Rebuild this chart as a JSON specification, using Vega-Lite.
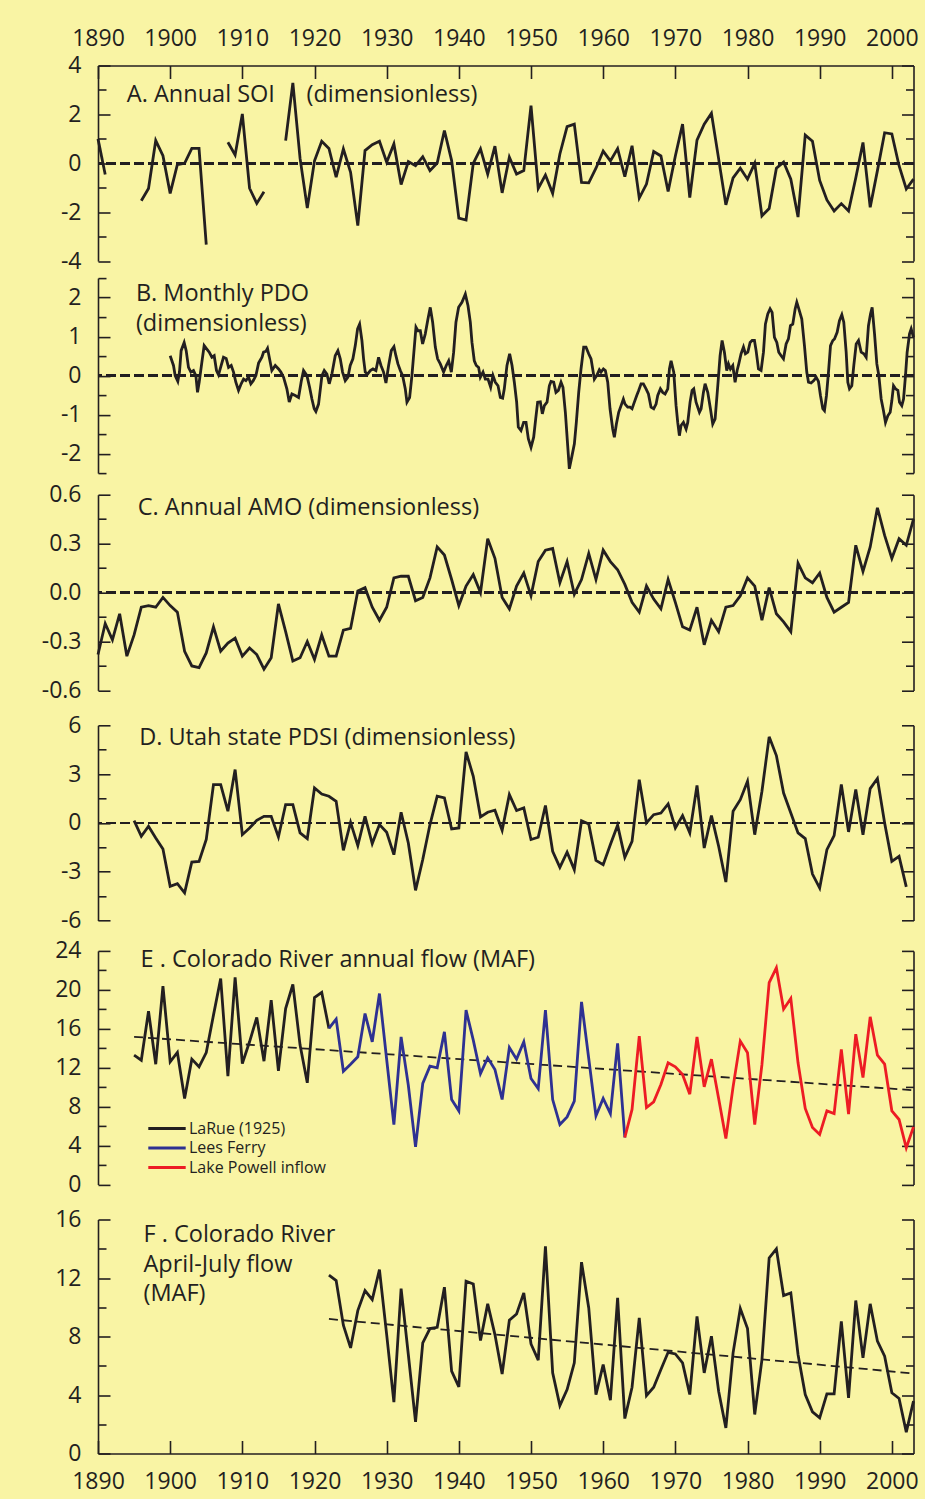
{
  "$schema": "https://vega.github.io/schema/vega-lite/v6.json",
  "padding": {"left": 41, "top": 26.5, "right": 5, "bottom": 5},
  "spacing": 3.6,
  "config": {
    "background": "#f9f4a4",
    "view": {"stroke": null},
    "font": "Open Sans",
    "axis": {"grid": false, "domainColor": "#231f20", "domainWidth": 1.6, "tickColor": "#231f20", "tickWidth": 1.6, "labelColor": "#231f20", "labelFont": "Open Sans", "labelFontSize": 23, "labelOverlap": false, "labelFlush": false},
    "text": {"font": "Open Sans", "fontSize": 23.5, "color": "#231f20"}
  },
  "vconcat": [
    {
      "width": 815.5, "height": 195.6,
      "data": {"values": [
        {"t":1890,"v":1.0,"s":1},{"t":1891,"v":-0.46,"s":1},
        {"t":1896,"v":-1.53,"s":2},{"t":1897,"v":-1.03,"s":2},{"t":1898,"v":0.93,"s":2},{"t":1899,"v":0.31,"s":2},{"t":1900,"v":-1.23,"s":2},{"t":1901,"v":-0.05,"s":2},{"t":1902,"v":0.0,"s":2},{"t":1903,"v":0.61,"s":2},{"t":1904,"v":0.61,"s":2},{"t":1905,"v":-3.33,"s":2},
        {"t":1908,"v":0.86,"s":3},{"t":1909,"v":0.34,"s":3},{"t":1910,"v":2.02,"s":3},{"t":1911,"v":-1.02,"s":3},{"t":1912,"v":-1.64,"s":3},{"t":1913,"v":-1.16,"s":3},
        {"t":1916,"v":0.93,"s":4},{"t":1917,"v":3.29,"s":4},{"t":1918,"v":0.2,"s":4},{"t":1919,"v":-1.83,"s":4},{"t":1920,"v":0.1,"s":4},{"t":1921,"v":0.9,"s":4},{"t":1922,"v":0.61,"s":4},{"t":1923,"v":-0.57,"s":4},{"t":1924,"v":0.59,"s":4},{"t":1925,"v":-0.37,"s":4},{"t":1926,"v":-2.55,"s":4},{"t":1927,"v":0.52,"s":4},{"t":1928,"v":0.76,"s":4},{"t":1929,"v":0.9,"s":4},{"t":1930,"v":0.04,"s":4},{"t":1931,"v":0.79,"s":4},{"t":1932,"v":-0.87,"s":4},{"t":1933,"v":0.07,"s":4},{"t":1934,"v":-0.1,"s":4},{"t":1935,"v":0.27,"s":4},{"t":1936,"v":-0.3,"s":4},{"t":1937,"v":0.01,"s":4},{"t":1938,"v":1.34,"s":4},{"t":1939,"v":0.11,"s":4},{"t":1940,"v":-2.24,"s":4},{"t":1941,"v":-2.32,"s":4},{"t":1942,"v":0.0,"s":4},{"t":1943,"v":0.59,"s":4},{"t":1944,"v":-0.44,"s":4},{"t":1945,"v":0.7,"s":4},{"t":1946,"v":-1.21,"s":4},{"t":1947,"v":0.25,"s":4},{"t":1948,"v":-0.44,"s":4},{"t":1949,"v":-0.3,"s":4},{"t":1950,"v":2.36,"s":4},{"t":1951,"v":-1.03,"s":4},{"t":1952,"v":-0.48,"s":4},{"t":1953,"v":-1.23,"s":4},{"t":1954,"v":0.38,"s":4},{"t":1955,"v":1.5,"s":4},{"t":1956,"v":1.6,"s":4},{"t":1957,"v":-0.78,"s":4},{"t":1958,"v":-0.8,"s":4},{"t":1959,"v":-0.2,"s":4},{"t":1960,"v":0.5,"s":4},{"t":1961,"v":0.1,"s":4},{"t":1962,"v":0.6,"s":4},{"t":1963,"v":-0.55,"s":4},{"t":1964,"v":0.72,"s":4},{"t":1965,"v":-1.42,"s":4},{"t":1966,"v":-0.85,"s":4},{"t":1967,"v":0.48,"s":4},{"t":1968,"v":0.3,"s":4},{"t":1969,"v":-1.15,"s":4},{"t":1970,"v":0.3,"s":4},{"t":1971,"v":1.6,"s":4},{"t":1972,"v":-1.4,"s":4},{"t":1973,"v":0.95,"s":4},{"t":1974,"v":1.6,"s":4},{"t":1975,"v":2.05,"s":4},{"t":1976,"v":0.18,"s":4},{"t":1977,"v":-1.7,"s":4},{"t":1978,"v":-0.6,"s":4},{"t":1979,"v":-0.2,"s":4},{"t":1980,"v":-0.65,"s":4},{"t":1981,"v":0.0,"s":4},{"t":1982,"v":-2.15,"s":4},{"t":1983,"v":-1.85,"s":4},{"t":1984,"v":-0.2,"s":4},{"t":1985,"v":0.05,"s":4},{"t":1986,"v":-0.65,"s":4},{"t":1987,"v":-2.2,"s":4},{"t":1988,"v":1.15,"s":4},{"t":1989,"v":0.9,"s":4},{"t":1990,"v":-0.7,"s":4},{"t":1991,"v":-1.5,"s":4},{"t":1992,"v":-1.95,"s":4},{"t":1993,"v":-1.65,"s":4},{"t":1994,"v":-1.95,"s":4},{"t":1995,"v":-0.6,"s":4},{"t":1996,"v":0.85,"s":4},{"t":1997,"v":-1.8,"s":4},{"t":1998,"v":-0.3,"s":4},{"t":1999,"v":1.25,"s":4},{"t":2000,"v":1.2,"s":4},{"t":2001,"v":-0.1,"s":4},{"t":2002,"v":-1.05,"s":4},{"t":2003,"v":-0.65,"s":4}
      ]},
      "layer": [
        {"mark": {"type": "line", "color": "#231f20", "strokeWidth": 2.8},
         "encoding": {
           "x": {"field": "t", "type": "quantitative", "scale": {"domain": [1890, 2003], "nice": false, "zero": false},
             "axis": {"orient": "top", "title": null, "domain": true, "ticks": true, "labels": true, "values": [1890,1895,1900,1905,1910,1915,1920,1925,1930,1935,1940,1945,1950,1955,1960,1965,1970,1975,1980,1985,1990,1995,2000], "tickSize": {"condition": {"test": "datum.value % 10 === 0", "value": -13}, "value": -8}, "labelFontSize": {"condition": {"test": "datum.value % 10 === 0", "value": 23}, "value": 0}, "labelPadding": 28.5, "labelExpr": "datum.value % 10 === 0 ? '' + datum.value : ''"}},
           "y": {"field": "v", "type": "quantitative", "scale": {"domain": [-4, 4], "nice": false, "zero": false},
             "axis": {"orient": "left", "title": null, "values": [-4,-3,-2,-1,0,1,2,3,4], "tickSize": {"condition": {"test": "datum.value % 2 === 0", "value": -12}, "value": -8}, "labelFontSize": {"condition": {"test": "datum.value % 2 === 0", "value": 23}, "value": 0}, "labelPadding": 29, "labelExpr": "datum.value % 2 === 0 ? (datum.value < 0 ? '-' : '') + abs(datum.value) : ''"}},
           "detail": {"field": "s", "type": "nominal"}
         }},
        {"mark": {"type": "rule", "strokeDash": [9, 5], "strokeWidth": 1.8, "color": "#231f20"},
         "encoding": {"y": {"datum": 0, "type": "quantitative", "scale": {"domain": [-4, 4], "nice": false, "zero": false},
           "axis": {"orient": "right", "title": null, "labels": false, "values": [-4,-3,-2,-1,0,1,2,3,4], "tickSize": {"condition": {"test": "datum.value % 2 === 0", "value": -12}, "value": -8}}}}},
        {"data": {"values": [{}]}, "mark": {"type": "text", "text": "A. Annual SOI", "align": "left", "baseline": "alphabetic"},
         "encoding": {"x": {"datum": 1894.0, "type": "quantitative"}, "y": {"datum": 2.5, "type": "quantitative", "axis": null}}},
        {"data": {"values": [{}]}, "mark": {"type": "text", "text": "(dimensionless)", "align": "left", "baseline": "alphabetic"},
         "encoding": {"x": {"datum": 1918.9, "type": "quantitative"}, "y": {"datum": 2.5, "type": "quantitative", "axis": null}}}
      ],
      "resolve": {"axis": {"y": "independent"}}
    },
    {
      "width": 815.5, "height": 195,
      "data": {"values": [
        {"t":1900.00,"v":0.51},{"t":1900.46,"v":0.26},{"t":1900.69,"v":0},{"t":1901.06,"v":-0.15},{"t":1901.29,"v":0.09},{"t":1901.52,"v":0.64},{"t":1901.94,"v":0.85},{"t":1902.22,"v":0.64},{"t":1902.54,"v":0.21},{"t":1902.87,"v":0.09},{"t":1903.23,"v":0.13},{"t":1903.56,"v":0},{"t":1903.79,"v":-0.43},{"t":1904.02,"v":-0.17},{"t":1904.39,"v":0.34},{"t":1904.71,"v":0.77},{"t":1905.08,"v":0.68},{"t":1905.41,"v":0.60},{"t":1905.78,"v":0.47},{"t":1906.10,"v":0.51},{"t":1906.42,"v":0.13},{"t":1906.70,"v":0.02},{"t":1907.07,"v":0.26},{"t":1907.39,"v":0.47},{"t":1907.76,"v":0.44},{"t":1908.09,"v":0.21},{"t":1908.46,"v":0.26},{"t":1908.78,"v":0.09},{"t":1909.10,"v":-0.17},{"t":1909.47,"v":-0.38},{"t":1909.84,"v":-0.21},{"t":1910.17,"v":-0.09},{"t":1910.49,"v":-0.13},{"t":1910.86,"v":-0.04},{"t":1911.18,"v":-0.21},{"t":1911.51,"v":-0.13},{"t":1911.88,"v":0},{"t":1912.25,"v":0.32},{"t":1912.71,"v":0.47},{"t":1912.94,"v":0.60},{"t":1913.26,"v":0.62},{"t":1913.49,"v":0.70},{"t":1913.77,"v":0.43},{"t":1914.09,"v":0.13},{"t":1914.56,"v":0.26},{"t":1915.02,"v":0.17},{"t":1915.34,"v":0.09},{"t":1915.71,"v":-0.04},{"t":1916.17,"v":-0.34},{"t":1916.50,"v":-0.68},{"t":1916.87,"v":-0.47},{"t":1917.33,"v":-0.51},{"t":1917.79,"v":-0.56},{"t":1918.16,"v":-0.15},{"t":1918.48,"v":0.13},{"t":1918.95,"v":0},{"t":1919.32,"v":-0.30},{"t":1919.64,"v":-0.60},{"t":1919.96,"v":-0.85},{"t":1920.19,"v":-0.92},{"t":1920.56,"v":-0.73},{"t":1921.03,"v":0},{"t":1921.35,"v":0.13},{"t":1921.72,"v":0.04},{"t":1922.04,"v":-0.21},{"t":1922.41,"v":0.04},{"t":1922.87,"v":0.51},{"t":1923.24,"v":0.64},{"t":1923.57,"v":0.43},{"t":1923.89,"v":0.09},{"t":1924.26,"v":-0.13},{"t":1924.63,"v":-0.04},{"t":1924.95,"v":0.26},{"t":1925.32,"v":0.43},{"t":1925.65,"v":0.77},{"t":1925.97,"v":1.20},{"t":1926.25,"v":1.32},{"t":1926.57,"v":0.90},{"t":1926.80,"v":0.43},{"t":1927.03,"v":0.09},{"t":1927.36,"v":0.04},{"t":1927.73,"v":0.13},{"t":1928.10,"v":0.17},{"t":1928.51,"v":0.13},{"t":1928.88,"v":0.47},{"t":1929.21,"v":0.26},{"t":1929.57,"v":0.09},{"t":1929.90,"v":-0.19},{"t":1930.27,"v":0.26},{"t":1930.64,"v":0.64},{"t":1931.01,"v":0.74},{"t":1931.28,"v":0.51},{"t":1931.56,"v":0.30},{"t":1931.89,"v":0.13},{"t":1932.21,"v":0},{"t":1932.58,"v":-0.34},{"t":1932.81,"v":-0.68},{"t":1933.18,"v":-0.56},{"t":1933.50,"v":0},{"t":1933.73,"v":0.51},{"t":1934.06,"v":1.24},{"t":1934.33,"v":1.15},{"t":1934.66,"v":1.15},{"t":1934.98,"v":0.81},{"t":1935.35,"v":1.07},{"t":1935.72,"v":1.45},{"t":1936.04,"v":1.75},{"t":1936.37,"v":1.37},{"t":1936.74,"v":0.73},{"t":1937.06,"v":0.43},{"t":1937.43,"v":0.30},{"t":1937.89,"v":0.09},{"t":1938.26,"v":0.26},{"t":1938.59,"v":0.38},{"t":1938.96,"v":0.09},{"t":1939.28,"v":0.60},{"t":1939.60,"v":1.37},{"t":1939.97,"v":1.75},{"t":1940.43,"v":1.88},{"t":1940.90,"v":2.09},{"t":1941.27,"v":1.79},{"t":1941.59,"v":1.37},{"t":1941.82,"v":0.85},{"t":1942.14,"v":0.38},{"t":1942.42,"v":0.26},{"t":1942.74,"v":0.21},{"t":1942.98,"v":-0.04},{"t":1943.35,"v":0.09},{"t":1943.67,"v":-0.09},{"t":1944.04,"v":-0.09},{"t":1944.41,"v":-0.30},{"t":1944.73,"v":0},{"t":1945.06,"v":-0.17},{"t":1945.43,"v":-0.26},{"t":1945.75,"v":-0.56},{"t":1946.07,"v":-0.58},
        {"t":1946.30,"v":-0.34},{"t":1946.67,"v":0.26},{"t":1947.04,"v":0.56},{"t":1947.37,"v":0.26},{"t":1947.69,"v":-0.17},{"t":1948.01,"v":-0.68},{"t":1948.24,"v":-1.32},{"t":1948.61,"v":-1.41},{"t":1948.98,"v":-1.20},{"t":1949.31,"v":-1.20},{"t":1949.63,"v":-1.62},{"t":1950.00,"v":-1.84},{"t":1950.37,"v":-1.58},{"t":1950.65,"v":-1.11},{"t":1950.92,"v":-0.68},{"t":1951.29,"v":-0.67},{"t":1951.57,"v":-0.98},{"t":1951.85,"v":-0.77},{"t":1952.22,"v":-0.68},{"t":1952.54,"v":-0.26},{"t":1952.77,"v":-0.15},{"t":1953.14,"v":-0.17},{"t":1953.46,"v":-0.43},{"t":1953.79,"v":-0.38},{"t":1954.16,"v":-0.17},{"t":1954.43,"v":-0.30},{"t":1954.76,"v":-0.94},{"t":1955.08,"v":-1.79},{"t":1955.31,"v":-2.39},{"t":1955.64,"v":-2.09},{"t":1956.01,"v":-1.75},{"t":1956.28,"v":-1.20},{"t":1956.61,"v":-0.43},{"t":1956.93,"v":0.17},{"t":1957.30,"v":0.73},{"t":1957.62,"v":0.73},{"t":1957.99,"v":0.56},{"t":1958.32,"v":0.43},{"t":1958.78,"v":-0.09},{"t":1959.10,"v":0},{"t":1959.47,"v":0.15},{"t":1959.70,"v":0.09},{"t":1960.03,"v":0.17},{"t":1960.30,"v":0.13},{"t":1960.63,"v":-0.17},{"t":1960.95,"v":-0.85},{"t":1961.32,"v":-1.37},{"t":1961.55,"v":-1.58},{"t":1961.83,"v":-1.24},{"t":1962.15,"v":-0.94},{"t":1962.48,"v":-0.77},{"t":1962.80,"v":-0.60},{"t":1963.03,"v":-0.73},{"t":1963.40,"v":-0.81},{"t":1963.72,"v":-0.81},{"t":1964.00,"v":-0.85},{"t":1964.32,"v":-0.68},{"t":1964.65,"v":-0.51},{"t":1964.92,"v":-0.38},{"t":1965.25,"v":-0.21},{"t":1965.57,"v":-0.21},{"t":1965.94,"v":-0.34},{"t":1966.27,"v":-0.47},{"t":1966.63,"v":-0.81},{"t":1967.00,"v":-0.85},{"t":1967.33,"v":-0.73},{"t":1967.56,"v":-0.51},{"t":1967.93,"v":-0.34},{"t":1968.25,"v":-0.43},{"t":1968.58,"v":-0.47},{"t":1968.95,"v":-0.34},{"t":1969.18,"v":0.17},{"t":1969.41,"v":0.38},{"t":1969.78,"v":0.09},{"t":1970.10,"v":-0.77},{"t":1970.33,"v":-1.20},{"t":1970.56,"v":-1.54},{"t":1970.79,"v":-1.28},{"t":1971.12,"v":-1.20},{"t":1971.49,"v":-1.37},{"t":1971.72,"v":-1.20},{"t":1972.04,"v":-0.68},{"t":1972.32,"v":-0.38},{"t":1972.55,"v":-0.34},{"t":1972.87,"v":-0.68},{"t":1973.34,"v":-0.94},{"t":1973.57,"v":-0.85},{"t":1973.89,"v":-0.43},{"t":1974.12,"v":-0.21},{"t":1974.49,"v":-0.43},{"t":1974.86,"v":-0.85},{"t":1975.18,"v":-1.24},{"t":1975.51,"v":-1.11},{"t":1975.88,"v":-0.26},{"t":1976.20,"v":0.51},{"t":1976.48,"v":0.90},{"t":1976.80,"v":0.60},{"t":1977.12,"v":0.13},{"t":1977.36,"v":0.30},{"t":1977.63,"v":0.17},{"t":1977.96,"v":0.26},{"t":1978.28,"v":-0.17},{"t":1978.56,"v":0.13},{"t":1978.79,"v":0.30},{"t":1979.11,"v":0.56},{"t":1979.44,"v":0.73},{"t":1979.71,"v":0.56},{"t":1980.04,"v":0.60},{"t":1980.36,"v":0.85},{"t":1980.64,"v":0.90},{"t":1980.96,"v":0.90},{"t":1981.19,"v":0.64},{"t":1981.52,"v":0.17},{"t":1981.88,"v":0.13},{"t":1982.21,"v":0.60},{"t":1982.48,"v":1.32},{"t":1982.81,"v":1.58},{"t":1983.13,"v":1.71},{"t":1983.41,"v":1.62},{"t":1983.73,"v":0.98},{"t":1984.06,"v":0.85},{"t":1984.33,"v":0.60},{"t":1984.66,"v":0.51},{"t":1984.98,"v":0.43},{"t":1985.35,"v":0.81},{"t":1985.67,"v":0.94},{"t":1985.95,"v":1.28},{"t":1986.27,"v":1.32},{"t":1986.60,"v":1.71},{"t":1986.83,"v":1.88},{"t":1987.11,"v":1.71},{"t":1987.52,"v":1.45},{"t":1987.89,"v":0.77},{"t":1988.21,"v":0.09},{"t":1988.45,"v":-0.17},{"t":1988.81,"v":-0.19},{"t":1989.18,"v":-0.13},{"t":1989.51,"v":-0.04},{"t":1989.83,"v":-0.15},{"t":1990.11,"v":-0.51},{"t":1990.43,"v":-0.85},{"t":1990.66,"v":-0.90},{"t":1990.94,"v":-0.51},{"t":1991.22,"v":0.09},{"t":1991.50,"v":0.77},{"t":1991.82,"v":0.90},{"t":1992.05,"v":0.94},{"t":1992.42,"v":1.11},{"t":1992.74,"v":1.41},{"t":1993.07,"v":1.56},{"t":1993.34,"v":1.37},{"t":1993.67,"v":0.60},{"t":1993.90,"v":-0.17},{"t":1994.13,"v":-0.34},{"t":1994.45,"v":-0.26},{"t":1994.73,"v":0.26},{"t":1995.06,"v":0.81},{"t":1995.38,"v":0.90},{"t":1995.75,"v":0.60},{"t":1996.12,"v":0.56},{"t":1996.44,"v":0.47},{"t":1996.76,"v":1.28},{"t":1997.04,"v":1.58},{"t":1997.27,"v":1.75},{"t":1997.60,"v":1.07},{"t":1997.92,"v":0.30},{"t":1998.20,"v":0},{"t":1998.52,"v":-0.60},{"t":1998.84,"v":-0.90},{"t":1999.12,"v":-1.20},{"t":1999.44,"v":-1.03},{"t":1999.77,"v":-0.94},{"t":2000.00,"v":-0.64},{"t":2000.23,"v":-0.26},{"t":2000.51,"v":-0.34},{"t":2000.83,"v":-0.38},{"t":2001.06,"v":-0.68},{"t":2001.38,"v":-0.77},{"t":2001.62,"v":-0.60},{"t":2001.89,"v":0},{"t":2002.12,"v":0.60},{"t":2002.45,"v":1.07},{"t":2002.68,"v":1.20},{"t":2003.0,"v":0.98}
      ]},
      "layer": [
        {"mark": {"type": "rule", "strokeDash": [9, 5], "strokeWidth": 1.8, "color": "#231f20"},
         "encoding": {"y": {"datum": 0, "type": "quantitative", "scale": {"domain": [-2.5, 2.5], "nice": false, "zero": false},
           "axis": {"orient": "left", "title": null, "values": [-2.5,-2,-1.5,-1,-0.5,0,0.5,1,1.5,2,2.5], "tickSize": {"condition": {"test": "datum.value % 1 === 0", "value": -12}, "value": -8}, "labelFontSize": {"condition": {"test": "datum.value % 1 === 0", "value": 23}, "value": 0}, "labelPadding": 29, "labelExpr": "datum.value % 1 === 0 ? (datum.value < 0 ? '-' : '') + abs(datum.value) : ''"}}}},
        {"mark": {"type": "line", "color": "#231f20", "strokeWidth": 2.8},
         "encoding": {
           "x": {"field": "t", "type": "quantitative", "scale": {"domain": [1890, 2003], "nice": false, "zero": false}, "axis": null},
           "y": {"field": "v", "type": "quantitative", "scale": {"domain": [-2.5, 2.5], "nice": false, "zero": false},
             "axis": {"orient": "right", "title": null, "labels": true, "labelExpr": "''", "labelPadding": 0, "labelFontSize": {"condition": {"test": "datum.value === -2.5", "value": 13.8}, "value": 0}, "values": [-2.5,-2,-1.5,-1,-0.5,0,0.5,1,1.5,2,2.5], "tickSize": {"condition": {"test": "datum.value % 1 === 0", "value": -12}, "value": -8}}}
         }},
        {"data": {"values": [{}]}, "mark": {"type": "text", "text": ["B. Monthly PDO", "(dimensionless)"], "lineHeight": 30, "align": "left", "baseline": "alphabetic"},
         "encoding": {"x": {"datum": 1895.25, "type": "quantitative", "axis": null}, "y": {"datum": 1.92, "type": "quantitative", "axis": null}}}
      ],
      "resolve": {"axis": {"y": "independent"}}
    },
    {
      "width": 815.5, "height": 195.7,
      "data": {"values": [
        {"t":1890,"v":-0.38},{"t":1891,"v":-0.19},{"t":1892,"v":-0.29},{"t":1893,"v":-0.13},{"t":1894,"v":-0.39},{"t":1895,"v":-0.26},{"t":1896,"v":-0.09},{"t":1897,"v":-0.08},{"t":1898,"v":-0.09},{"t":1899,"v":-0.03},{"t":1900,"v":-0.08},{"t":1901,"v":-0.12},{"t":1902,"v":-0.36},{"t":1903,"v":-0.45},{"t":1904,"v":-0.46},{"t":1905,"v":-0.37},{"t":1906,"v":-0.21},{"t":1907,"v":-0.36},{"t":1908,"v":-0.31},{"t":1909,"v":-0.28},{"t":1910,"v":-0.39},{"t":1911,"v":-0.34},{"t":1912,"v":-0.38},{"t":1913,"v":-0.47},{"t":1914,"v":-0.40},{"t":1915,"v":-0.07},{"t":1916,"v":-0.24},{"t":1917,"v":-0.42},{"t":1918,"v":-0.40},{"t":1919,"v":-0.30},{"t":1920,"v":-0.41},{"t":1921,"v":-0.26},{"t":1922,"v":-0.39},{"t":1923,"v":-0.39},{"t":1924,"v":-0.23},{"t":1925,"v":-0.22},{"t":1926,"v":0.01},{"t":1927,"v":0.03},{"t":1928,"v":-0.09},{"t":1929,"v":-0.17},{"t":1930,"v":-0.09},{"t":1931,"v":0.09},{"t":1932,"v":0.10},{"t":1933,"v":0.10},{"t":1934,"v":-0.05},{"t":1935,"v":-0.03},{"t":1936,"v":0.09},{"t":1937,"v":0.28},{"t":1938,"v":0.23},{"t":1939,"v":0.08},{"t":1940,"v":-0.08},{"t":1941,"v":0.04},{"t":1942,"v":0.11},{"t":1943,"v":0.0},{"t":1944,"v":0.33},{"t":1945,"v":0.21},{"t":1946,"v":-0.03},{"t":1947,"v":-0.10},{"t":1948,"v":0.04},{"t":1949,"v":0.12},{"t":1950,"v":-0.02},{"t":1951,"v":0.19},{"t":1952,"v":0.26},{"t":1953,"v":0.27},{"t":1954,"v":0.06},{"t":1955,"v":0.19},{"t":1956,"v":-0.01},{"t":1957,"v":0.08},{"t":1958,"v":0.24},{"t":1959,"v":0.08},{"t":1960,"v":0.26},{"t":1961,"v":0.19},{"t":1962,"v":0.14},{"t":1963,"v":0.05},{"t":1964,"v":-0.06},{"t":1965,"v":-0.12},{"t":1966,"v":0.04},{"t":1967,"v":-0.04},{"t":1968,"v":-0.10},{"t":1969,"v":0.08},{"t":1970,"v":-0.06},{"t":1971,"v":-0.21},{"t":1972,"v":-0.23},{"t":1973,"v":-0.09},{"t":1974,"v":-0.32},{"t":1975,"v":-0.17},{"t":1976,"v":-0.24},{"t":1977,"v":-0.09},{"t":1978,"v":-0.08},{"t":1979,"v":-0.02},{"t":1980,"v":0.09},{"t":1981,"v":0.04},{"t":1982,"v":-0.17},{"t":1983,"v":0.03},{"t":1984,"v":-0.13},{"t":1985,"v":-0.18},{"t":1986,"v":-0.24},{"t":1987,"v":0.18},{"t":1988,"v":0.09},{"t":1989,"v":0.06},{"t":1990,"v":0.12},{"t":1991,"v":-0.03},{"t":1992,"v":-0.12},{"t":1993,"v":-0.09},{"t":1994,"v":-0.06},{"t":1995,"v":0.29},{"t":1996,"v":0.13},{"t":1997,"v":0.28},{"t":1998,"v":0.52},{"t":1999,"v":0.35},{"t":2000,"v":0.21},{"t":2001,"v":0.33},{"t":2002,"v":0.29},{"t":2003,"v":0.45}
      ]},
      "layer": [
        {"mark": {"type": "rule", "strokeDash": [9, 5], "strokeWidth": 1.8, "color": "#231f20"},
         "encoding": {"y": {"datum": 0, "type": "quantitative", "scale": {"domain": [-0.6, 0.6], "nice": false, "zero": false},
           "axis": {"orient": "left", "title": null, "values": [-0.6,-0.45,-0.3,-0.15,0,0.15,0.3,0.45,0.6], "tickSize": {"condition": {"test": "abs(round(datum.value*100)) % 30 === 0", "value": -12}, "value": -8}, "labelFontSize": {"condition": {"test": "abs(round(datum.value*100)) % 30 === 0", "value": 23}, "value": 0}, "labelPadding": 29, "labelExpr": "abs(round(datum.value*100)) % 30 === 0 ? (datum.value < 0 ? '-' : '') + format(abs(datum.value), '.1f') : ''"}}}},
        {"mark": {"type": "line", "color": "#231f20", "strokeWidth": 2.8},
         "encoding": {
           "x": {"field": "t", "type": "quantitative", "scale": {"domain": [1890, 2003], "nice": false, "zero": false}, "axis": null},
           "y": {"field": "v", "type": "quantitative", "scale": {"domain": [-0.6, 0.6], "nice": false, "zero": false},
             "axis": {"orient": "right", "title": null, "labels": false, "values": [-0.6,-0.45,-0.3,-0.15,0,0.15,0.3,0.45,0.6], "tickSize": {"condition": {"test": "abs(round(datum.value*100)) % 30 === 0", "value": -12}, "value": -8}}}
         }},
        {"data": {"values": [{}]}, "mark": {"type": "text", "text": "C. Annual AMO (dimensionless)", "align": "left", "baseline": "alphabetic"},
         "encoding": {"x": {"datum": 1895.5, "type": "quantitative", "axis": null}, "y": {"datum": 0.473, "type": "quantitative", "axis": null}}}
      ],
      "resolve": {"axis": {"y": "independent"}}
    },
    {
      "width": 815.5, "height": 195.3,
      "data": {"values": [
        {"t":1895,"v":0.14},{"t":1896,"v":-0.82},{"t":1897,"v":-0.2},{"t":1898,"v":-0.92},{"t":1899,"v":-1.6},{"t":1900,"v":-3.89},{"t":1901,"v":-3.73},{"t":1902,"v":-4.3},{"t":1903,"v":-2.4},{"t":1904,"v":-2.36},{"t":1905,"v":-1.02},{"t":1906,"v":2.36},{"t":1907,"v":2.36},{"t":1908,"v":0.72},{"t":1909,"v":3.28},{"t":1910,"v":-0.72},{"t":1911,"v":-0.31},{"t":1912,"v":0.16},{"t":1913,"v":0.41},{"t":1914,"v":0.41},{"t":1915,"v":-0.86},{"t":1916,"v":1.13},{"t":1917,"v":1.13},{"t":1918,"v":-0.61},{"t":1919,"v":-0.96},{"t":1920,"v":2.15},{"t":1921,"v":1.78},{"t":1922,"v":1.64},{"t":1923,"v":1.33},{"t":1924,"v":-1.68},{"t":1925,"v":0.04},{"t":1926,"v":-1.39},{"t":1927,"v":0.41},{"t":1928,"v":-1.27},{"t":1929,"v":-0.1},{"t":1930,"v":-0.57},{"t":1931,"v":-1.95},{"t":1932,"v":0.66},{"t":1933,"v":-1.23},{"t":1934,"v":-4.14},{"t":1935,"v":-2.25},{"t":1936,"v":-0.1},{"t":1937,"v":1.64},{"t":1938,"v":1.54},{"t":1939,"v":-0.37},{"t":1940,"v":-0.31},{"t":1941,"v":4.36},{"t":1942,"v":2.87},{"t":1943,"v":0.37},{"t":1944,"v":0.66},{"t":1945,"v":0.78},{"t":1946,"v":-0.45},{"t":1947,"v":1.74},{"t":1948,"v":0.76},{"t":1949,"v":0.92},{"t":1950,"v":-1.02},{"t":1951,"v":-0.88},{"t":1952,"v":1.07},{"t":1953,"v":-1.74},{"t":1954,"v":-2.73},{"t":1955,"v":-1.80},{"t":1956,"v":-2.87},{"t":1957,"v":0.14},{"t":1958,"v":-0.06},{"t":1959,"v":-2.30},{"t":1960,"v":-2.56},{"t":1961,"v":-1.33},{"t":1962,"v":-0.14},{"t":1963,"v":-2.11},{"t":1964,"v":-1.13},{"t":1965,"v":2.66},{"t":1966,"v":0.0},{"t":1967,"v":0.51},{"t":1968,"v":0.61},{"t":1969,"v":1.17},{"t":1970,"v":-0.31},{"t":1971,"v":0.45},{"t":1972,"v":-0.61},{"t":1973,"v":2.30},{"t":1974,"v":-1.54},{"t":1975,"v":0.45},{"t":1976,"v":-1.43},{"t":1977,"v":-3.63},{"t":1978,"v":0.72},{"t":1979,"v":1.43},{"t":1980,"v":2.56},{"t":1981,"v":-0.72},{"t":1982,"v":1.95},{"t":1983,"v":5.29},{"t":1984,"v":4.14},{"t":1985,"v":1.84},{"t":1986,"v":0.61},{"t":1987,"v":-0.61},{"t":1988,"v":-0.96},{"t":1989,"v":-3.14},{"t":1990,"v":-4.0},{"t":1991,"v":-1.64},{"t":1992,"v":-0.78},{"t":1993,"v":2.36},{"t":1994,"v":-0.55},{"t":1995,"v":2.05},{"t":1996,"v":-0.72},{"t":1997,"v":2.11},{"t":1998,"v":2.73},{"t":1999,"v":0.0},{"t":2000,"v":-2.36},{"t":2001,"v":-2.05},{"t":2002,"v":-3.93}
      ]},
      "layer": [
        {"mark": {"type": "rule", "strokeDash": [9, 5], "strokeWidth": 1.8, "color": "#231f20"},
         "encoding": {"y": {"datum": 0, "type": "quantitative", "scale": {"domain": [-6, 6], "nice": false, "zero": false},
           "axis": {"orient": "left", "title": null, "values": [-6,-4.5,-3,-1.5,0,1.5,3,4.5,6], "tickSize": {"condition": {"test": "datum.value % 3 === 0", "value": -12}, "value": -8}, "labelFontSize": {"condition": {"test": "datum.value % 3 === 0", "value": 23}, "value": 0}, "labelPadding": 29, "labelExpr": "datum.value % 3 === 0 ? (datum.value < 0 ? '-' : '') + abs(datum.value) : ''"}}}},
        {"mark": {"type": "line", "color": "#231f20", "strokeWidth": 2.8},
         "encoding": {
           "x": {"field": "t", "type": "quantitative", "scale": {"domain": [1890, 2003], "nice": false, "zero": false}, "axis": null},
           "y": {"field": "v", "type": "quantitative", "scale": {"domain": [-6, 6], "nice": false, "zero": false},
             "axis": {"orient": "right", "title": null, "labels": true, "labelExpr": "''", "labelPadding": 0, "labelFontSize": {"condition": {"test": "datum.value === 6", "value": 39.2}, "value": 0}, "values": [-6,-4.5,-3,-1.5,0,1.5,3,4.5,6], "tickSize": {"condition": {"test": "datum.value % 3 === 0", "value": -12}, "value": -8}}}
         }},
        {"data": {"values": [{}]}, "mark": {"type": "text", "text": "D. Utah state PDSI (dimensionless)", "align": "left", "baseline": "alphabetic"},
         "encoding": {"x": {"datum": 1895.7, "type": "quantitative", "axis": null}, "y": {"datum": 4.81, "type": "quantitative", "axis": null}}}
      ],
      "resolve": {"axis": {"y": "independent"}}
    },
    {
      "width": 815.5, "height": 233.6,
      "data": {"values": [
        {"t":1895,"v":13.29,"src":"LaRue (1925)"},{"t":1896,"v":12.77,"src":"LaRue (1925)"},{"t":1897,"v":17.81,"src":"LaRue (1925)"},{"t":1898,"v":12.36,"src":"LaRue (1925)"},{"t":1899,"v":20.38,"src":"LaRue (1925)"},{"t":1900,"v":12.6,"src":"LaRue (1925)"},{"t":1901,"v":13.56,"src":"LaRue (1925)"},{"t":1902,"v":8.84,"src":"LaRue (1925)"},{"t":1903,"v":12.88,"src":"LaRue (1925)"},{"t":1904,"v":12.09,"src":"LaRue (1925)"},{"t":1905,"v":13.56,"src":"LaRue (1925)"},{"t":1906,"v":17.4,"src":"LaRue (1925)"},{"t":1907,"v":21.16,"src":"LaRue (1925)"},{"t":1908,"v":11.13,"src":"LaRue (1925)"},{"t":1909,"v":21.27,"src":"LaRue (1925)"},{"t":1910,"v":12.43,"src":"LaRue (1925)"},{"t":1911,"v":14.66,"src":"LaRue (1925)"},{"t":1912,"v":17.16,"src":"LaRue (1925)"},{"t":1913,"v":12.67,"src":"LaRue (1925)"},{"t":1914,"v":18.94,"src":"LaRue (1925)"},{"t":1915,"v":11.68,"src":"LaRue (1925)"},{"t":1916,"v":18.08,"src":"LaRue (1925)"},{"t":1917,"v":20.55,"src":"LaRue (1925)"},{"t":1918,"v":14.32,"src":"LaRue (1925)"},{"t":1919,"v":10.45,"src":"LaRue (1925)"},{"t":1920,"v":19.21,"src":"LaRue (1925)"},{"t":1921,"v":19.73,"src":"LaRue (1925)"},{"t":1922,"v":16.03,"src":"LaRue (1925)"},
        {"t":1922,"v":16.03,"src":"Lees Ferry"},{"t":1923,"v":16.99,"src":"Lees Ferry"},{"t":1924,"v":11.64,"src":"Lees Ferry"},{"t":1925,"v":12.36,"src":"Lees Ferry"},{"t":1926,"v":13.12,"src":"Lees Ferry"},{"t":1927,"v":17.57,"src":"Lees Ferry"},{"t":1928,"v":14.66,"src":"Lees Ferry"},{"t":1929,"v":19.62,"src":"Lees Ferry"},{"t":1930,"v":12.84,"src":"Lees Ferry"},{"t":1931,"v":6.16,"src":"Lees Ferry"},{"t":1932,"v":15.17,"src":"Lees Ferry"},{"t":1933,"v":10.2,"src":"Lees Ferry"},{"t":1934,"v":3.87,"src":"Lees Ferry"},{"t":1935,"v":10.38,"src":"Lees Ferry"},{"t":1936,"v":12.16,"src":"Lees Ferry"},{"t":1937,"v":11.99,"src":"Lees Ferry"},{"t":1938,"v":15.68,"src":"Lees Ferry"},{"t":1939,"v":8.73,"src":"Lees Ferry"},{"t":1940,"v":7.57,"src":"Lees Ferry"},{"t":1941,"v":17.91,"src":"Lees Ferry"},{"t":1942,"v":14.83,"src":"Lees Ferry"},{"t":1943,"v":11.4,"src":"Lees Ferry"},{"t":1944,"v":13.01,"src":"Lees Ferry"},{"t":1945,"v":11.82,"src":"Lees Ferry"},{"t":1946,"v":8.73,"src":"Lees Ferry"},{"t":1947,"v":14.08,"src":"Lees Ferry"},{"t":1948,"v":12.88,"src":"Lees Ferry"},{"t":1949,"v":14.66,"src":"Lees Ferry"},{"t":1950,"v":10.89,"src":"Lees Ferry"},{"t":1951,"v":9.86,"src":"Lees Ferry"},{"t":1952,"v":17.91,"src":"Lees Ferry"},{"t":1953,"v":8.73,"src":"Lees Ferry"},{"t":1954,"v":6.16,"src":"Lees Ferry"},{"t":1955,"v":6.95,"src":"Lees Ferry"},{"t":1956,"v":8.56,"src":"Lees Ferry"},{"t":1957,"v":18.77,"src":"Lees Ferry"},{"t":1958,"v":12.95,"src":"Lees Ferry"},{"t":1959,"v":7.05,"src":"Lees Ferry"},{"t":1960,"v":8.84,"src":"Lees Ferry"},{"t":1961,"v":7.29,"src":"Lees Ferry"},{"t":1962,"v":14.49,"src":"Lees Ferry"},{"t":1963,"v":4.83,"src":"Lees Ferry"},
        {"t":1963,"v":4.83,"src":"Lake Powell inflow"},{"t":1964,"v":7.71,"src":"Lake Powell inflow"},{"t":1965,"v":15.24,"src":"Lake Powell inflow"},{"t":1966,"v":7.91,"src":"Lake Powell inflow"},{"t":1967,"v":8.49,"src":"Lake Powell inflow"},{"t":1968,"v":10.27,"src":"Lake Powell inflow"},{"t":1969,"v":12.5,"src":"Lake Powell inflow"},{"t":1970,"v":12.09,"src":"Lake Powell inflow"},{"t":1971,"v":11.3,"src":"Lake Powell inflow"},{"t":1972,"v":9.28,"src":"Lake Powell inflow"},{"t":1973,"v":15.17,"src":"Lake Powell inflow"},{"t":1974,"v":10.03,"src":"Lake Powell inflow"},{"t":1975,"v":12.88,"src":"Lake Powell inflow"},{"t":1976,"v":8.84,"src":"Lake Powell inflow"},{"t":1977,"v":4.73,"src":"Lake Powell inflow"},{"t":1978,"v":10.03,"src":"Lake Powell inflow"},{"t":1979,"v":14.73,"src":"Lake Powell inflow"},{"t":1980,"v":13.53,"src":"Lake Powell inflow"},{"t":1981,"v":6.16,"src":"Lake Powell inflow"},{"t":1982,"v":12.33,"src":"Lake Powell inflow"},{"t":1983,"v":20.75,"src":"Lake Powell inflow"},{"t":1984,"v":22.26,"src":"Lake Powell inflow"},{"t":1985,"v":18.01,"src":"Lake Powell inflow"},{"t":1986,"v":19.11,"src":"Lake Powell inflow"},{"t":1987,"v":12.5,"src":"Lake Powell inflow"},{"t":1988,"v":7.81,"src":"Lake Powell inflow"},{"t":1989,"v":5.86,"src":"Lake Powell inflow"},{"t":1990,"v":5.14,"src":"Lake Powell inflow"},{"t":1991,"v":7.57,"src":"Lake Powell inflow"},{"t":1992,"v":7.29,"src":"Lake Powell inflow"},{"t":1993,"v":13.87,"src":"Lake Powell inflow"},{"t":1994,"v":7.23,"src":"Lake Powell inflow"},{"t":1995,"v":15.45,"src":"Lake Powell inflow"},{"t":1996,"v":10.99,"src":"Lake Powell inflow"},{"t":1997,"v":17.23,"src":"Lake Powell inflow"},{"t":1998,"v":13.29,"src":"Lake Powell inflow"},{"t":1999,"v":12.36,"src":"Lake Powell inflow"},{"t":2000,"v":7.57,"src":"Lake Powell inflow"},{"t":2001,"v":6.68,"src":"Lake Powell inflow"},{"t":2002,"v":3.77,"src":"Lake Powell inflow"},{"t":2003,"v":5.92,"src":"Lake Powell inflow"}
      ]},
      "layer": [
        {"data": {"values": [{"t":1895,"v":15.17},{"t":2003,"v":9.69}]},
         "mark": {"type": "line", "strokeDash": [9, 5], "strokeWidth": 1.8, "color": "#231f20"},
         "encoding": {
           "x": {"field": "t", "type": "quantitative", "scale": {"domain": [1890, 2003], "nice": false, "zero": false}, "axis": null},
           "y": {"field": "v", "type": "quantitative", "scale": {"domain": [0, 24], "nice": false, "zero": false},
           "axis": {"orient": "left", "title": null, "values": [0,2,4,6,8,10,12,14,16,18,20,22,24], "tickSize": {"condition": {"test": "datum.value % 4 === 0", "value": -12}, "value": -8}, "labelFontSize": {"condition": {"test": "datum.value % 4 === 0", "value": 23}, "value": 0}, "labelPadding": 29, "labelExpr": "datum.value % 4 === 0 ? '' + datum.value : ''"}}}},
        {"mark": {"type": "line", "strokeWidth": 2.8},
         "encoding": {
           "x": {"field": "t", "type": "quantitative", "scale": {"domain": [1890, 2003], "nice": false, "zero": false}, "axis": null},
           "y": {"field": "v", "type": "quantitative", "scale": {"domain": [0, 24], "nice": false, "zero": false},
             "axis": {"orient": "right", "title": null, "labels": true, "labelExpr": "''", "labelPadding": 0, "labelFontSize": {"condition": {"test": "datum.value === 24", "value": 28.6}, "value": 0}, "values": [0,2,4,6,8,10,12,14,16,18,20,22,24], "tickSize": {"condition": {"test": "datum.value % 4 === 0", "value": -12}, "value": -8}}},
           "color": {"field": "src", "type": "nominal",
             "scale": {"domain": ["LaRue (1925)", "Lees Ferry", "Lake Powell inflow"], "range": ["#231f20", "#2e3192", "#ed1c24"]},
             "legend": {"orient": "none", "legendX": 59, "legendY": 1053, "title": null, "symbolType": "M-2.2,0H2.2", "symbolSize": 289, "symbolStrokeWidth": 3, "labelFontSize": 16, "labelLimit": 400, "labelFont": "Open Sans", "labelColor": "#231f20", "rowPadding": 1.5, "labelOffset": 12}}
         }},
        {"data": {"values": [{}]}, "mark": {"type": "text", "text": "E . Colorado River annual flow (MAF)", "align": "left", "baseline": "alphabetic"},
         "encoding": {"x": {"datum": 1895.9, "type": "quantitative", "axis": null}, "y": {"datum": 22.3, "type": "quantitative", "axis": null}}}
      ],
      "resolve": {"axis": {"y": "independent"}}
    },
    {
      "width": 815.5, "height": 234,
      "data": {"values": [
        {"t":1922,"v":12.19},{"t":1923,"v":11.82},{"t":1924,"v":8.77},{"t":1925,"v":7.22},{"t":1926,"v":9.77},{"t":1927,"v":11.14},{"t":1928,"v":10.52},{"t":1929,"v":12.57},{"t":1930,"v":8.13},{"t":1931,"v":3.51},{"t":1932,"v":11.28},{"t":1933,"v":6.77},{"t":1934,"v":2.16},{"t":1935,"v":7.56},{"t":1936,"v":8.54},{"t":1937,"v":8.63},{"t":1938,"v":11.37},{"t":1939,"v":5.63},{"t":1940,"v":4.56},{"t":1941,"v":11.78},{"t":1942,"v":11.59},{"t":1943,"v":7.72},{"t":1944,"v":10.23},{"t":1945,"v":8.13},{"t":1946,"v":5.44},{"t":1947,"v":9.11},{"t":1948,"v":9.54},{"t":1949,"v":10.98},{"t":1950,"v":7.49},{"t":1951,"v":6.38},{"t":1952,"v":14.17},{"t":1953,"v":5.51},{"t":1954,"v":3.28},{"t":1955,"v":4.37},{"t":1956,"v":6.2},{"t":1957,"v":13.08},{"t":1958,"v":9.95},{"t":1959,"v":4.03},{"t":1960,"v":6.08},{"t":1961,"v":3.64},{"t":1962,"v":10.64},{"t":1963,"v":2.39},{"t":1964,"v":4.53},{"t":1965,"v":9.27},{"t":1966,"v":3.96},{"t":1967,"v":4.53},{"t":1968,"v":5.74},{"t":1969,"v":6.92},{"t":1970,"v":6.81},{"t":1971,"v":6.2},{"t":1972,"v":4.03},{"t":1973,"v":9.38},{"t":1974,"v":5.51},{"t":1975,"v":8.02},{"t":1976,"v":4.26},{"t":1977,"v":1.75},{"t":1978,"v":6.88},{"t":1979,"v":9.91},{"t":1980,"v":8.54},{"t":1981,"v":2.67},{"t":1982,"v":6.42},{"t":1983,"v":13.37},{"t":1984,"v":13.99},{"t":1985,"v":10.8},{"t":1986,"v":10.98},{"t":1987,"v":6.77},{"t":1988,"v":4.03},{"t":1989,"v":2.85},{"t":1990,"v":2.44},{"t":1991,"v":4.08},{"t":1992,"v":4.08},{"t":1993,"v":9.04},{"t":1994,"v":3.8},{"t":1995,"v":10.46},{"t":1996,"v":6.54},{"t":1997,"v":10.23},{"t":1998,"v":7.68},{"t":1999,"v":6.65},{"t":2000,"v":4.15},{"t":2001,"v":3.76},{"t":2002,"v":1.46},{"t":2003,"v":3.58}
      ]},
      "layer": [
        {"mark": {"type": "line", "color": "#231f20", "strokeWidth": 2.8},
         "encoding": {
           "x": {"field": "t", "type": "quantitative", "scale": {"domain": [1890, 2003], "nice": false, "zero": false},
             "axis": {"orient": "bottom", "title": null, "domain": true, "ticks": true, "labels": true, "values": [1890,1895,1900,1905,1910,1915,1920,1925,1930,1935,1940,1945,1950,1955,1960,1965,1970,1975,1980,1985,1990,1995,2000], "tickSize": {"condition": {"test": "datum.value % 10 === 0", "value": -13}, "value": -8}, "labelFontSize": {"condition": {"test": "datum.value % 10 === 0", "value": 23}, "value": 0}, "labelPadding": 30, "labelExpr": "datum.value % 10 === 0 ? '' + datum.value : ''"}},
           "y": {"field": "v", "type": "quantitative", "scale": {"domain": [0, 16], "nice": false, "zero": false},
             "axis": {"orient": "left", "title": null, "values": [0,2,4,6,8,10,12,14,16], "tickSize": {"condition": {"test": "datum.value % 4 === 0", "value": -12}, "value": -8}, "labelFontSize": {"condition": {"test": "datum.value % 4 === 0", "value": 23}, "value": 0}, "labelPadding": 29, "labelExpr": "datum.value % 4 === 0 ? '' + datum.value : ''"}}
         }},
        {"data": {"values": [{"t":1922,"v":9.2},{"t":2003,"v":5.47}]},
         "mark": {"type": "line", "strokeDash": [9, 5], "strokeWidth": 1.8, "color": "#231f20"},
         "encoding": {
           "x": {"field": "t", "type": "quantitative", "scale": {"domain": [1890, 2003], "nice": false, "zero": false}},
           "y": {"field": "v", "type": "quantitative", "scale": {"domain": [0, 16], "nice": false, "zero": false},
             "axis": {"orient": "right", "title": null, "labels": true, "labelExpr": "''", "labelPadding": 0, "labelFontSize": {"condition": {"test": "datum.value === 16", "value": 37.2}, "value": 0}, "values": [0,2,4,6,8,10,12,14,16], "tickSize": {"condition": {"test": "datum.value % 4 === 0", "value": -12}, "value": -8}}}
         }},
        {"data": {"values": [{}]}, "mark": {"type": "text", "text": ["F . Colorado River", "April-July flow", "(MAF)"], "lineHeight": 29.7, "align": "left", "baseline": "alphabetic"},
         "encoding": {"x": {"datum": 1896.3, "type": "quantitative"}, "y": {"datum": 14.47, "type": "quantitative", "axis": null}}}
      ],
      "resolve": {"axis": {"y": "independent"}}
    }
  ]
}
